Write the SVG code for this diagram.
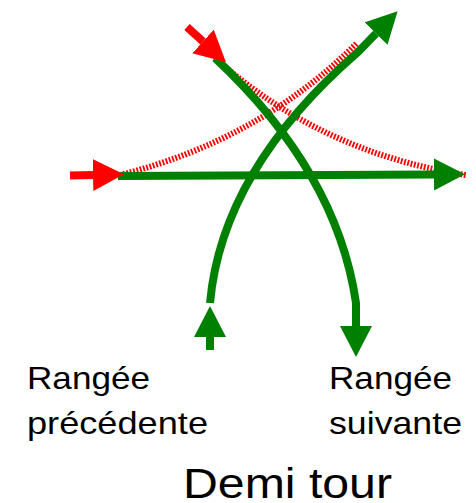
<svg xmlns="http://www.w3.org/2000/svg" width="476" height="503" viewBox="0 0 476 503">
<style>
.g{fill:none;stroke:#008000;stroke-width:8}
.r{fill:none;stroke:#ff0000;stroke-width:8}
.rd{fill:none;stroke:#ff0000;stroke-width:6;stroke-dasharray:1.8 1.6}
.t{font-family:"Liberation Sans",Arial,sans-serif;fill:#000}
</style>
<defs>
<marker id="ag" markerUnits="userSpaceOnUse" viewBox="0 0 31 32" refX="0" refY="16" markerWidth="31" markerHeight="32" orient="auto"><path d="M0,0 L31,16 L0,32 Z" fill="#008000"/></marker>
<marker id="ar" markerUnits="userSpaceOnUse" viewBox="0 0 31 32" refX="0" refY="16" markerWidth="31" markerHeight="32" orient="auto"><path d="M0,0 L31,16 L0,32 Z" fill="#ff0000"/></marker>
</defs>
<g id="connectors">
<path class="rd" d="M120,175 Q260,140 357,43"/>
<path class="rd" d="M215,58 Q321,153 466,175"/>
<path class="g" d="M118,176 L434,174.5" marker-end="url(#ag)"/>
<path class="g" d="M210,303 Q222,170 358,52 L376,33.5" marker-end="url(#ag)"/>
<path class="g" d="M215,58 Q337,172 356,303 L356,326" marker-end="url(#ag)"/>
<path class="g" d="M210,350 L210,337" marker-end="url(#ag)"/>
<path class="r" d="M70,175.5 L93,175" marker-end="url(#ar)"/>
<path class="r" d="M187,27 L203,41.5" marker-end="url(#ar)"/>
</g>
<g id="label-prev">
<text class="t" x="27" y="389" font-size="32" textLength="123" lengthAdjust="spacingAndGlyphs">Rangée</text>
<text class="t" x="27" y="434" font-size="32" textLength="181" lengthAdjust="spacingAndGlyphs">précédente</text>
</g>
<g id="label-next">
<text class="t" x="329" y="389" font-size="32" textLength="123" lengthAdjust="spacingAndGlyphs">Rangée</text>
<text class="t" x="329" y="434" font-size="32" textLength="133" lengthAdjust="spacingAndGlyphs">suivante</text>
</g>
<g id="title">
<text class="t" x="183" y="498" font-size="42" textLength="209" lengthAdjust="spacingAndGlyphs">Demi tour</text>
</g>
</svg>
